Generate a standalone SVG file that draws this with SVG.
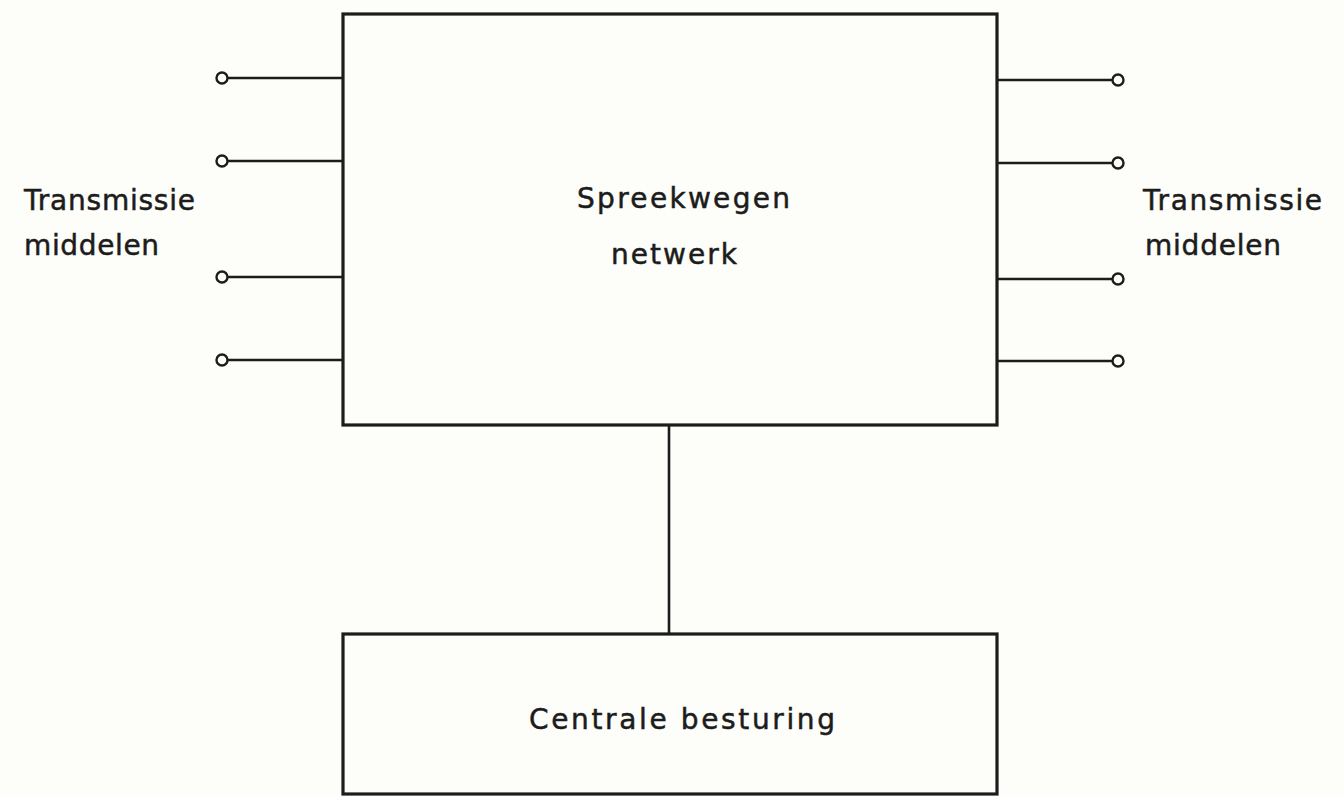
<svg xmlns="http://www.w3.org/2000/svg" width="1344" height="797" viewBox="0 0 1344 797">
  <style>
    .box { fill: none; stroke: #1c1c1c; stroke-width: 3.2; }
    .wire { fill: none; stroke: #1c1c1c; stroke-width: 2.6; }
    .term { fill: #fdfdf9; stroke: #1c1c1c; stroke-width: 2.4; }
    .lbl { font-family: "DejaVu Sans", "Liberation Sans", sans-serif; font-size: 28px; fill: #1c1c1c; stroke: #1c1c1c; stroke-width: 0.5; }
  </style>
  <rect width="1344" height="797" fill="#fdfdf9"/>

  <!-- connectors: terminal leads and control link -->
  <g id="connectors">
    <line class="wire" x1="227" y1="78" x2="343" y2="78"/>
    <line class="wire" x1="227" y1="161" x2="343" y2="161"/>
    <line class="wire" x1="227" y1="277" x2="343" y2="277"/>
    <line class="wire" x1="227" y1="360" x2="343" y2="360"/>
    <line class="wire" x1="997" y1="80" x2="1113" y2="80"/>
    <line class="wire" x1="997" y1="163" x2="1113" y2="163"/>
    <line class="wire" x1="997" y1="279" x2="1113" y2="279"/>
    <line class="wire" x1="997" y1="361" x2="1113" y2="361"/>
    <line class="wire" x1="669" y1="425" x2="669" y2="634"/>
    <circle class="term" cx="222" cy="78" r="5.5"/>
    <circle class="term" cx="222" cy="161" r="5.5"/>
    <circle class="term" cx="222" cy="277" r="5.5"/>
    <circle class="term" cx="222" cy="360" r="5.5"/>
    <circle class="term" cx="1118" cy="80" r="5.5"/>
    <circle class="term" cx="1118" cy="163" r="5.5"/>
    <circle class="term" cx="1118" cy="279" r="5.5"/>
    <circle class="term" cx="1118" cy="361" r="5.5"/>
  </g>

  <g id="network">
    <rect class="box" x="343" y="14" width="654" height="411"/>
    <text class="lbl" x="577" y="208" textLength="213" lengthAdjust="spacing">Spreekwegen</text>
    <text class="lbl" x="611" y="264" textLength="126" lengthAdjust="spacing">netwerk</text>
  </g>

  <g id="control">
    <rect class="box" x="343" y="634" width="654" height="160"/>
    <text class="lbl" x="529" y="729" textLength="306" lengthAdjust="spacing">Centrale besturing</text>
  </g>

  <g id="label-left">
    <text class="lbl" x="24" y="210" textLength="171" lengthAdjust="spacing">Transmissie</text>
    <text class="lbl" x="24" y="255" textLength="135" lengthAdjust="spacing">middelen</text>
  </g>

  <g id="label-right">
    <text class="lbl" x="1143" y="210" textLength="179" lengthAdjust="spacing">Transmissie</text>
    <text class="lbl" x="1145" y="255" textLength="136" lengthAdjust="spacing">middelen</text>
  </g>
</svg>
